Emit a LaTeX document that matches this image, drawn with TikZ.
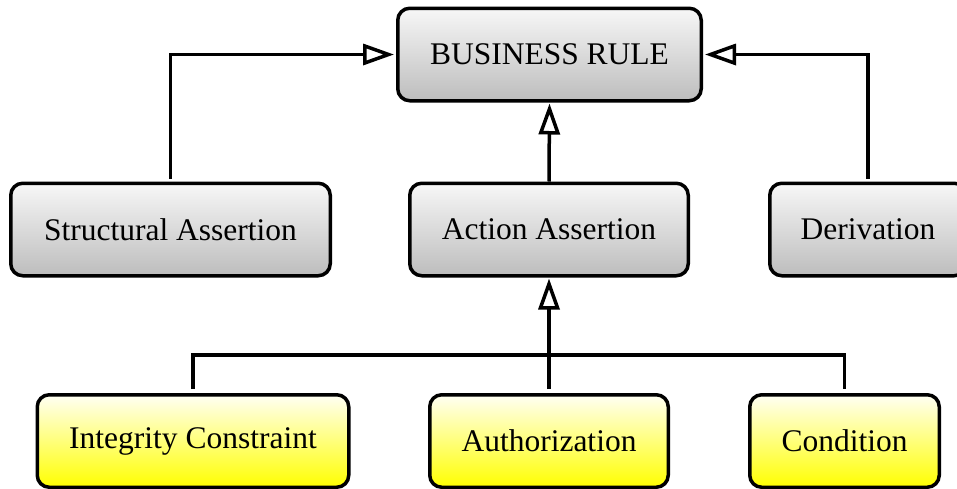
\documentclass[tikz,border=0pt]{standalone}
\usepackage{fontspec}
\setmainfont{Liberation Serif}
\usetikzlibrary{arrows.meta}
\definecolor{graytop}{HTML}{F7F7F7}
\definecolor{graybot}{HTML}{BDBDBD}
\definecolor{yellowtop}{HTML}{FFFFF4}
\definecolor{yellowbot}{HTML}{FFFF00}
\begin{document}
\begin{tikzpicture}[x=1pt,y=-1pt,
  box/.style={draw=black, line width=3.5pt, rounded corners=12pt,
    minimum height=92.5pt, inner sep=0pt,
    font=\fontsize{31.5}{36}\selectfont},
  rulebox/.style={box, top color=graytop, bottom color=graybot},
  kindbox/.style={box, top color=yellowtop, bottom color=yellowbot},
  link/.style={draw=black, line width=3.5pt},
  genlink/.style={link, arrows={-Triangle[open, length=31pt, width=21pt]}}
]
\clip (0,0) rectangle (957,488);
\fill[white] (0,0) rectangle (957,488);

% top level
\node[rulebox, minimum width=303.5pt] (br) at (549.5,54.5) {BUSINESS RULE};

% second level
\node[rulebox, minimum width=319.5pt] (sa) at (170.5,229.5) {Structural Assertion};
\node[rulebox, minimum width=278.5pt] (aa) at (549,229.5) {Action Assertion};
\node[rulebox, minimum width=196.5pt] (dv) at (868,229.5) {Derivation};

% third level
\node[kindbox, minimum width=311.5pt] (ic) at (193,441) {Integrity Constraint};
\node[kindbox, minimum width=238.5pt] (au) at (549,441) {Authorization};
\node[kindbox, minimum width=189.5pt] (cd) at (844.5,441) {Condition};

% generalisations into BUSINESS RULE
\draw[genlink, shorten <=3pt, shorten >=2pt] (sa.north) |- (br.west);
\draw[genlink, shorten <=3pt, shorten >=2pt] (dv.north) |- (br.east);
\draw[genlink, shorten >=1pt] (aa.north) -- (br.south);

% generalisations into Action Assertion
\coordinate (bar) at (549,355);
\draw[link] ([yshift=4pt]ic.north) |- (bar) -| ([yshift=4pt]cd.north);
\draw[genlink, shorten <=4pt, shorten >=1pt] (au.north) -- (aa.south);
\end{tikzpicture}
\end{document}
